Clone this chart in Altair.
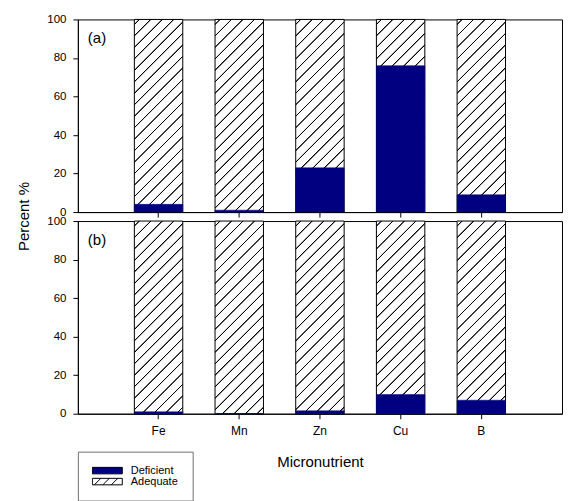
import altair as alt
import pandas as pd

# ---- data ----
nutrients = ["Fe", "Mn", "Zn", "Cu", "B"]
deficient_a = [4, 1, 23, 76, 9]
deficient_b = [1, 0, 1.5, 10, 7]
panel_labels = ["(a)", "(b)"]
status_names = ["Deficient", "Adequate"]
y_ticks = [0, 20, 40, 60, 80, 100]

NAVY = "#000080"
FONT = "Liberation Sans"
PLOT_W = 485
PLOT_H = 193


def make_df(deficient):
    return pd.DataFrame({
        "nutrient": nutrients,
        "deficient": deficient,
        "adequate": [100 - d for d in deficient],
    })


df_a = make_df(deficient_a)
df_b = make_df(deficient_b)

# ---- diagonal hatch as a striped linear gradient (45 deg in a full-height bar) ----
bw = PLOT_W / 6 * 0.6
bh = PLOT_H
k = (bw + bh) / (bw ** 2 + bh ** 2)
span = bw + bh
period = 11.5
stops = [{"offset": 0, "color": "white"}]
pos = 5.0
while pos < span - 1:
    a1 = max((pos - 1.0) / span, 0)
    a2 = max((pos - 0.35) / span, 0)
    b1 = min((pos + 0.35) / span, 1)
    b2 = min((pos + 1.0) / span, 1)
    stops += [
        {"offset": round(a1, 5), "color": "white"},
        {"offset": round(a2, 5), "color": "black"},
        {"offset": round(b1, 5), "color": "black"},
        {"offset": round(b2, 5), "color": "white"},
    ]
    pos += period
stops.append({"offset": 1, "color": "white"})
hatch = {"gradient": "linear", "x1": 0, "y1": 0,
         "x2": round(k * bw, 5), "y2": round(k * bh, 5), "stops": stops}

path_def = "M-3,-0.65H3V0.65H-3Z"
path_adq = ("M-3,-0.65H3V0.65H-3Z M-2.6,0.65L-1.3,-0.65 "
            "M-0.9,0.65L0.4,-0.65 M0.8,0.65L2.1,-0.65")

x_scale = alt.Scale(paddingInner=0.4, paddingOuter=0.7)
y_scale = alt.Scale(domain=[0, 100], nice=False)


def panel(df, label, show_x_labels, y_title, with_legend):
    x_axis = alt.Axis(
        labels=show_x_labels, ticks=True, tickSize=5,
        title="Micronutrient" if show_x_labels else None,
        labelAngle=0, labelPadding=7, titlePadding=18,
    )
    common = dict(values=y_ticks, tickCount=6, labelOverlap=False, labelFlush=False,
                  labelFontSize=11.5)
    if y_title:
        y_axis = alt.Axis(title="Percent %", titleX=-54, titleY=197,
                          titleAngle=270, titleAlign="center", titleBaseline="middle",
                          **common)
    else:
        y_axis = alt.Axis(title=None, **common)

    base = alt.Chart(df)
    hatched = base.transform_calculate(
        total="datum.deficient + datum.adequate"
    ).mark_bar(fill=hatch, stroke="black", strokeWidth=1).encode(
        x=alt.X("nutrient:N", sort=nutrients, scale=x_scale, axis=x_axis),
        y=alt.Y("total:Q", scale=y_scale, axis=y_axis),
    )
    solid = base.mark_bar(fill=NAVY, stroke=NAVY, strokeWidth=0.5).encode(
        x=alt.X("nutrient:N", sort=nutrients, scale=x_scale, axis=x_axis),
        y=alt.Y("deficient:Q", scale=y_scale, axis=y_axis),
    )
    txt = alt.Chart(pd.DataFrame({"label": [label]})).mark_text(
        align="left", baseline="middle", fontSize=15, font=FONT, color="black"
    ).encode(x=alt.value(10), y=alt.value(19), text="label:N")
    layers = [hatched, solid, txt]
    if with_legend:
        leg = alt.Legend(
            title=None, orient="none", legendX=0, legendY=433,
            padding=14, rowPadding=0, clipHeight=10,
            symbolSize=100, symbolOffset=10, labelOffset=18,
            labelFontSize=11, labelFont=FONT, labelColor="black",
            strokeColor="#707070", fillColor="white",
            symbolStrokeWidth=1,
        )
        pts = alt.Chart(df).transform_filter("false").transform_calculate(
            status="'Deficient'"
        ).mark_point(filled=True, opacity=1, strokeWidth=1, size=100).encode(
            fill=alt.Fill("status:N", scale=alt.Scale(domain=status_names, range=[NAVY, "white"]), legend=leg),
            stroke=alt.Stroke("status:N", scale=alt.Scale(domain=status_names, range=["black", "black"]), legend=leg),
            shape=alt.Shape("status:N", scale=alt.Scale(domain=status_names, range=[path_def, path_adq]), legend=leg),
        )
        layers.append(pts)
    return alt.layer(*layers).properties(width=PLOT_W, height=PLOT_H)


top = panel(df_a, panel_labels[0], False, True, False)
bottom = panel(df_b, panel_labels[1], True, False, True)

chart = alt.vconcat(top, bottom, spacing=9, bounds="flush").properties(
    padding={"left": 8, "top": 4, "right": 0, "bottom": 0},
    background="white",
).configure_view(
    stroke="black", strokeWidth=1
).configure_axis(
    grid=False, domainColor="black", tickColor="black", labelColor="black",
    titleColor="black", labelFont=FONT, titleFont=FONT, labelFontSize=12,
    titleFontSize=15, titleFontWeight="normal", tickSize=5, labelPadding=7,
).configure_text(font=FONT)

chart.save("out.html", embed_options={"renderer": "svg", "actions": False})
